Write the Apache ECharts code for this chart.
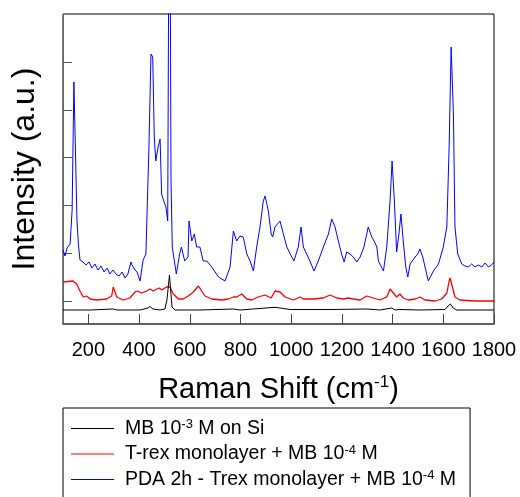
<!DOCTYPE html>
<html>
<head>
<meta charset="utf-8">
<script src="https://cdn.jsdelivr.net/npm/echarts@6/dist/echarts.min.js"></script>
<style>
  html, body { margin: 0; padding: 0; background: #fff; }
  #chart { width: 520px; height: 497px; }
</style>
</head>
<body>
<div id="chart"></div>
<script>
// Raman spectra, values (arbitrary intensity units)
var xTicks = [200, 400, 600, 800, 1000, 1200, 1400, 1600, 1800];
var yTicks = [230, 708, 1186, 1664, 2142, 2620];

var seriesNames = ['MB 10-3 M on Si', 'T-rex monolayer + MB 10-4 M', 'PDA 2h - Trex monolayer + MB 10-4 M'];

var blackX = [100,207,297,301,313,404,435,443,455,483,502,510,516,520,524,530,542,640,771,798,936,956,996,1153,1298,1350,1397,1410,1429,1508,1607,1619,1628,1639,1653,1800];
var blackY = [140,140,150,160,140,140,160,175,150,140,150,240,390,490,360,170,140,140,150,140,167,160,145,145,150,140,160,140,145,140,145,180,200,160,140,140];

var redX = [100,139,154,167,180,193,207,233,272,292,298,312,338,364,384,393,410,430,443,456,470,480,489,509,522,535,555,575,594,614,634,647,660,687,726,752,772,785,805,825,844,870,897,921,936,956,976,1009,1035,1048,1087,1127,1153,1180,1206,1225,1245,1272,1298,1324,1350,1377,1390,1403,1416,1429,1442,1462,1489,1508,1528,1568,1594,1614,1623,1627,1636,1646,1666,1725,1800];
var redY = [420,430,400,330,270,280,250,240,250,280,370,270,240,260,320,330,310,330,350,330,350,360,340,370,370,300,250,250,280,320,380,330,280,250,240,250,270,270,300,250,240,270,290,260,330,320,270,240,270,250,250,260,290,260,250,260,250,240,280,260,240,270,350,310,270,300,260,240,250,270,240,230,250,310,430,460,370,270,240,230,230];

var blueX = [100,108,116,128,136,143,149,155,161,167,179,191,203,214,226,238,250,262,274,285,297,309,321,333,345,356,368,372,384,392,404,416,427,433,439,447,454,460,466,475,483,489,496,506,513,517,520,523,526,531,547,560,567,580,593,597,608,618,627,640,653,667,687,713,739,759,772,785,798,811,825,838,851,864,877,890,897,910,921,927,936,956,969,983,996,1011,1028,1039,1048,1061,1074,1090,1107,1127,1147,1160,1173,1186,1199,1209,1219,1232,1245,1259,1272,1287,1304,1318,1327,1338,1344,1364,1377,1390,1398,1407,1416,1425,1433,1442,1452,1460,1469,1489,1499,1508,1519,1528,1541,1561,1581,1600,1614,1623,1631,1640,1646,1657,1673,1686,1699,1712,1725,1738,1752,1765,1778,1790,1800];
var blueY = [740,680,760,800,1140,2420,1740,1040,790,640,620,590,620,560,600,540,580,520,560,500,540,500,480,520,460,500,620,590,540,520,430,640,700,700,1770,2700,2670,1870,1630,1770,1850,1300,1240,1170,1030,3600,3700,3600,1440,770,500,700,770,630,670,1030,830,900,770,770,630,630,570,470,430,570,930,830,880,870,700,630,530,770,970,1230,1280,1130,900,870,970,1030,900,770,700,630,770,970,770,700,630,530,630,770,900,1050,970,830,700,620,720,700,670,620,670,770,970,870,830,770,630,530,770,1230,1630,1230,720,900,1100,830,570,470,600,670,700,750,670,570,430,530,600,770,970,1770,2770,2100,970,700,600,580,570,600,570,590,570,610,570,590,620];

function pairs(xs, ys) {
    var out = [];
    for (var i = 0; i < xs.length; i++) {
        out.push([xs[i], ys[i]]);
    }
    return out;
}

var legendRich = [
    '{t|MB 10}{s|-3}{t| M on Si}',
    '{t|T-rex monolayer + MB 10}{s|-4}{t| M}',
    '{t|PDA 2h - Trex monolayer + MB 10}{s|-4}{t| M}'
];

var font = 'Liberation Sans, Arial, sans-serif';
var chart = echarts.init(document.getElementById('chart'));

var option = {
    animation: false,
    backgroundColor: '#fff',
    grid: {
        left: 63, top: 14, right: 26, bottom: 173,
        outerBoundsMode: 'none',
        show: true, borderColor: '#000', borderWidth: 1
    },
    legend: {
        orient: 'vertical',
        left: 63,
        top: 408,
        height: 90,
        data: seriesNames,
        icon: 'rect',
        itemWidth: 43,
        itemHeight: 1,
        itemGap: 5,
        padding: [10, 14, 14, 8],
        borderColor: '#000',
        borderWidth: 1,
        backgroundColor: '#fff',
        formatter: function (name) {
            return legendRich[seriesNames.indexOf(name)];
        },
        textStyle: {
            color: '#000',
            fontFamily: font,
            padding: [0, 0, 0, 6],
            rich: {
                t: { fontSize: 19.5, lineHeight: 21, fontFamily: font, color: '#000' },
                s: { fontSize: 13, lineHeight: 10, verticalAlign: 'top', fontFamily: font, color: '#000' }
            }
        }
    },
    xAxis: {
        type: 'value',
        min: 100,
        max: 1800,
        name: '{t|Raman Shift (cm}{s|-1}{t|)}',
        nameLocation: 'middle',
        nameGap: 50,
        nameTextStyle: {
            rich: {
                t: { fontSize: 29, lineHeight: 32, fontFamily: font, color: '#000' },
                s: { fontSize: 17, lineHeight: 18, verticalAlign: 'top', fontFamily: font, color: '#000' }
            }
        },
        splitLine: { show: false },
        axisLine: { lineStyle: { color: '#555', width: 1.5 } },
        axisTick: { inside: true, length: 10, customValues: xTicks, lineStyle: { color: '#444' } },
        axisLabel: {
            customValues: xTicks, fontSize: 20, fontFamily: font, color: '#000', margin: 16,
            formatter: function (v) { return String(v); }
        }
    },
    yAxis: {
        type: 'value',
        min: 0,
        max: 3100,
        name: 'Intensity (a.u.)',
        nameLocation: 'middle',
        nameGap: 22,
        nameTextStyle: { fontSize: 32, fontFamily: font, color: '#000' },
        splitLine: { show: false },
        axisLine: { show: true, lineStyle: { color: '#666', width: 1 } },
        axisTick: { inside: true, length: 9, customValues: yTicks, lineStyle: { color: '#555' } },
        axisLabel: { show: false }
    },
    series: [
        {
            name: seriesNames[0], type: 'line', data: pairs(blackX, blackY),
            showSymbol: false, lineStyle: { color: '#000', width: 1 }, itemStyle: { color: '#000' }, z: 3
        },
        {
            name: seriesNames[1], type: 'line', data: pairs(redX, redY),
            showSymbol: false, lineStyle: { color: '#ff0000', width: 1.3 }, itemStyle: { color: '#ff0000' }, z: 2
        },
        {
            name: seriesNames[2], type: 'line', data: pairs(blueX, blueY),
            showSymbol: false, lineStyle: { color: '#0000ff', width: 1 }, itemStyle: { color: '#0000ff' }, z: 1
        }
    ]
};
chart.setOption(option);
</script>
</body>
</html>
